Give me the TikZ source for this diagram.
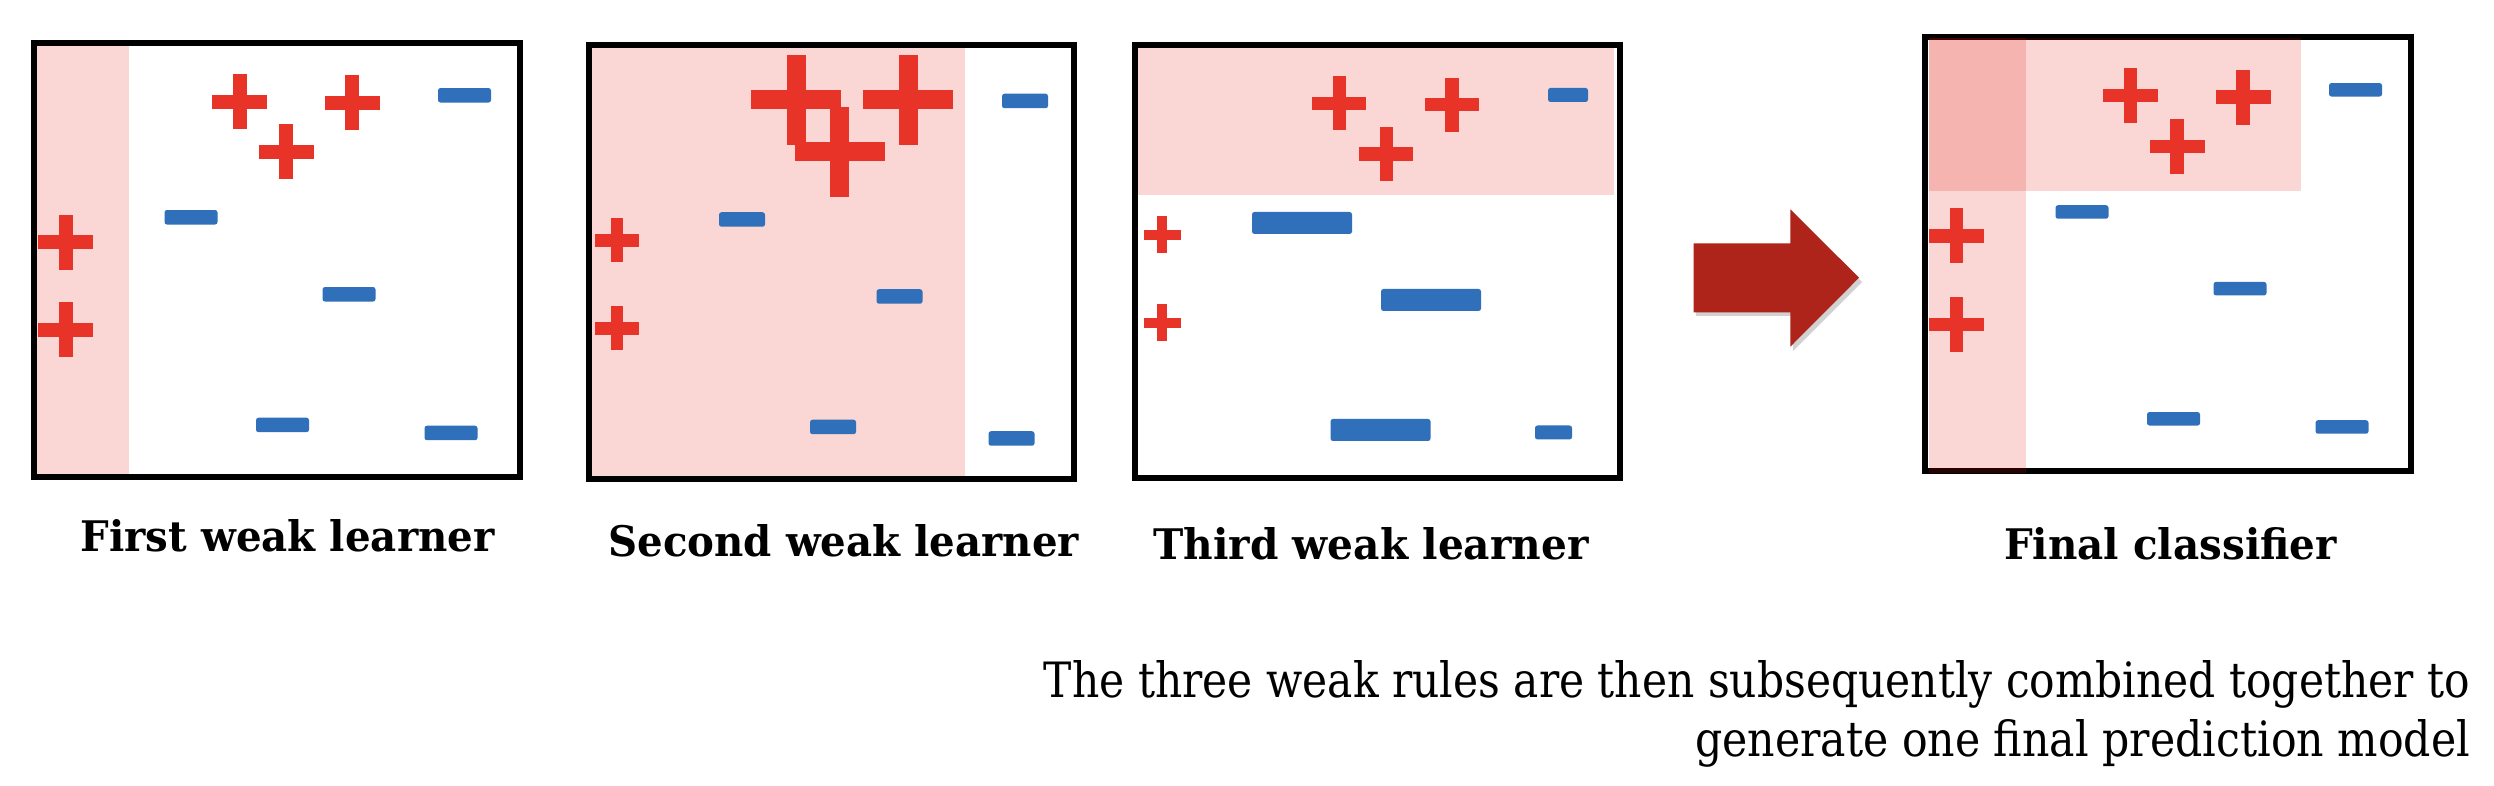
\documentclass[tikz,border=0pt]{standalone}
\usepackage{fontspec}
\setmainfont{DejaVu Serif}
\usepackage{graphicx}
\newlength\pxlen
\setlength\pxlen{0.01cm}
\definecolor{plusred}{RGB}{232,51,40}
\definecolor{minusblue}{RGB}{48,111,185}
\definecolor{arrowred}{RGB}{174,35,26}
\definecolor{shadered}{RGB}{231,14,0}
\tikzset{
  frame/.style={draw=black, line width=1.7pt, fill=none, inner sep=0pt, outer sep=0pt},
  shade/.style={fill=shadered, fill opacity=0.17},
  title/.style={anchor=base west, inner sep=0pt, outer sep=0pt, font=\bfseries},
  caption/.style={anchor=base east, inner sep=0pt, outer sep=0pt},
}
\newcommand{\mkplus}[4]{%
  \fill[plusred] ({#1-#3/2},{#2-#4/2}) rectangle ({#1+#3/2},{#2+#4/2});
  \fill[plusred] ({#1-#4/2},{#2-#3/2}) rectangle ({#1+#4/2},{#2+#3/2});}
\newcommand{\mkminus}[4]{%
  \fill[minusblue, rounded corners=0.7pt] ({#1-#3/2},{#2-#4/2}) rectangle ({#1+#3/2},{#2+#4/2});}
\begin{document}
\begin{tikzpicture}[x=0.01cm, y=-0.01cm]
\useasboundingbox (0,0) rectangle (2494,786);
\fill[white] (0,0) rectangle (2494,786);

% frames
\node[frame, minimum width=486\pxlen, minimum height=433.8\pxlen] (f1) at (276.7,259.9) {};
\node[frame, minimum width=485\pxlen, minimum height=433.2\pxlen] (f2) at (831.5,262.1) {};
\node[frame, minimum width=484.5\pxlen, minimum height=433.2\pxlen] (f3) at (1377.25,261.4) {};
\node[frame, minimum width=485.7\pxlen, minimum height=433.4\pxlen] (f4) at (2167.85,254.1) {};

% shaded regions
\fill[shade] (37,46) rectangle (129,474);
\fill[shade] (592,48.5) rectangle (965,475.7);
\fill[shade] (1137.5,48) rectangle (1613.6,195.3);
\fill[shade] (1929,38) rectangle (2301,190.6);
\fill[shade] (1929,38) rectangle (2026,472.6);

% first weak learner
\mkplus{239.7}{101.7}{55}{14}
\mkplus{352.2}{102.8}{55}{14}
\mkplus{286.3}{152}{55}{14}
\mkplus{65.9}{242.3}{55}{14}
\mkplus{65.9}{330}{55}{14}
\mkminus{464.5}{95.3}{53}{14.5}
\mkminus{191}{217.3}{53}{14.5}
\mkminus{349}{294.3}{53}{14.5}
\mkminus{282.5}{425}{53}{14.5}
\mkminus{451}{433}{53}{14.5}

% second weak learner
\mkplus{796}{100}{90}{19}
\mkplus{908}{100}{90}{19}
\mkplus{839.5}{152}{90}{19}
\mkplus{617}{240.5}{44}{12.5}
\mkplus{617}{328.5}{44}{12.5}
\mkminus{1025}{101}{46}{14.5}
\mkminus{742}{219.5}{46}{14.5}
\mkminus{899.5}{296.5}{46}{14.5}
\mkminus{833}{427}{46}{14.5}
\mkminus{1011.5}{438.5}{46}{14.5}

% third weak learner
\mkplus{1339.3}{103.5}{54}{13.5}
\mkplus{1451.8}{104.7}{54}{13.5}
\mkplus{1386.4}{154}{54}{13.5}
\mkplus{1162}{235}{37}{10.5}
\mkplus{1162}{323}{37}{10.5}
\mkminus{1568}{95}{40}{14}
\mkminus{1302}{223}{100}{22}
\mkminus{1431}{300}{100}{22}
\mkminus{1380.5}{430}{100}{22}
\mkminus{1553.5}{432.5}{37}{14}

% final classifier
\mkplus{2130.5}{95.7}{55}{13.5}
\mkplus{2243}{97.2}{55}{13.5}
\mkplus{2177.2}{146.6}{55}{13.5}
\mkplus{1956.4}{236}{55}{13.5}
\mkplus{1956.4}{324.5}{55}{13.5}
\mkminus{2355.5}{89.8}{53}{13.5}
\mkminus{2082}{212}{53}{13.5}
\mkminus{2240}{288.7}{53}{13.5}
\mkminus{2173.5}{418.8}{53}{13.5}
\mkminus{2342}{427}{53}{13.5}

% arrow
\fill[black, opacity=0.18] (1696,247) -- (1793,247) -- (1793,213) -- (1862,282) -- (1793,351) -- (1793,316) -- (1696,316) -- cycle;
\fill[arrowred] (1693.7,243.3) -- (1790.3,243.3) -- (1790.3,209.3) -- (1859,277.7) -- (1790.3,346.7) -- (1790.3,312.3) -- (1693.7,312.3) -- cycle;

% titles
\node[title] (t1) at (80.6,552) {\resizebox{414\pxlen}{32\pxlen}{First weak learner}};
\node[title] (t2) at (608.6,556.8) {\resizebox{470.3\pxlen}{32\pxlen}{Second weak learner}};
\node[title] (t3) at (1153.6,559.4) {\resizebox{435\pxlen}{32\pxlen}{Third weak learner}};
\node[title] (t4) at (2004.2,559.5) {\resizebox{332.6\pxlen}{32\pxlen}{Final classifier}};

% caption
\node[caption] (c1) at (2470,697.7) {\resizebox{1426\pxlen}{37\pxlen}{The three weak rules are then subsequently combined together to}};
\node[caption] (c2) at (2470,756.7) {\resizebox{775\pxlen}{37\pxlen}{generate one final prediction model}};
\end{tikzpicture}
\end{document}
